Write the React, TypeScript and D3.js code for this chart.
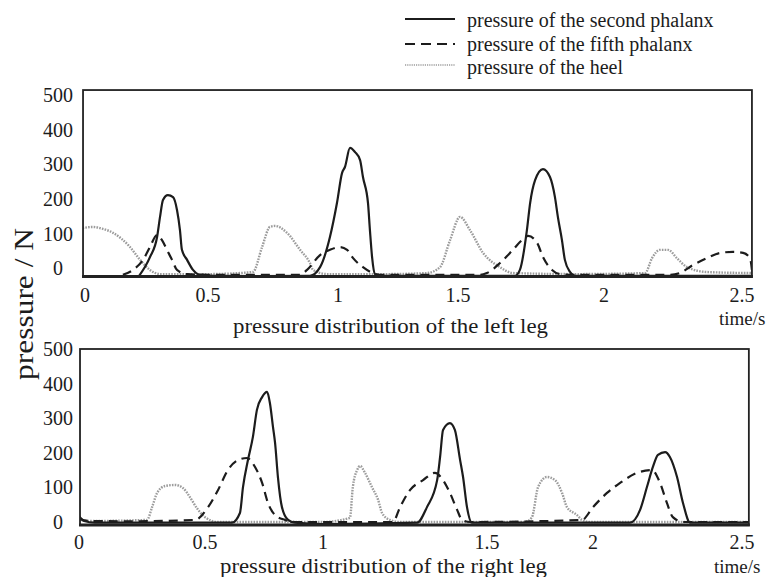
import React from "react";
import * as d3 from "d3";

type Pt = [number, number];

// ---------- tick values / labels ----------
const X_TICKS = [0, 0.5, 1, 1.5, 2, 2.5];
const X_TICK_LABELS = ["0", "0.5", "1", "1.5", "2", "2.5"];
const Y_TICKS = [0, 100, 200, 300, 400, 500];

const SERIES_NAMES = [
  "pressure of the second phalanx",
  "pressure of the fifth phalanx",
  "pressure of the heel",
];

// ---------- left leg (time s, pressure N) ----------
const leftSecond: Pt[] = [
  [0.22, -22], [0.264, 32], [0.293, 90], [0.305, 148], [0.317, 197], [0.337, 211], [0.358, 205],
  [0.374, 168], [0.386, 110], [0.394, 53], [0.415, 24], [0.439, -5], [0.467, -19], [0.55, -22],
  [0.7, -23], [0.892, -22], [0.931, 3], [0.969, 90], [0.996, 188], [1.017, 275], [1.029, 292],
  [1.05, 347], [1.071, 335], [1.092, 312], [1.104, 263], [1.125, 188], [1.133, 110], [1.142, 32],
  [1.154, -17], [1.175, -22], [1.4, -22], [1.695, -22], [1.712, -5], [1.736, 110], [1.747, 188],
  [1.764, 254], [1.791, 286], [1.815, 263], [1.832, 205], [1.842, 148], [1.856, 81], [1.866, 24],
  [1.884, -11], [1.901, -22], [2.2, -22], [2.536, -22],
];
const leftFifth: Pt[] = [
  [0.154, -19], [0.195, -5], [0.236, 24], [0.264, 61], [0.293, 96], [0.313, 81], [0.333, 53],
  [0.354, 24], [0.374, -5], [0.415, -17], [0.5, -19], [0.854, -19], [0.881, -5], [0.931, 38],
  [0.969, 53], [1.008, 61], [1.038, 53], [1.063, 29], [1.104, 3], [1.146, -14], [1.175, -19],
  [1.575, -19], [1.599, -14], [1.644, 15], [1.688, 53], [1.719, 81], [1.74, 93], [1.771, 73],
  [1.791, 32], [1.822, -5], [1.849, -17], [1.884, -19], [2.239, -19], [2.275, -14], [2.322, 9],
  [2.373, 29], [2.42, 44], [2.467, 47], [2.504, 44], [2.529, 29], [2.536, -5],
];
const leftHeel: Pt[] = [
  [-0.01, 116], [0.033, 119], [0.07, 114], [0.114, 102], [0.183, 61], [0.224, 24], [0.264, -5],
  [0.305, -17], [0.5, -17], [0.673, -11], [0.708, 61], [0.738, 119], [0.758, 122], [0.804, 102],
  [0.854, 53], [0.892, 15], [0.904, -5], [0.958, -17], [1.2, -17], [1.371, -14], [1.425, 3],
  [1.467, 81], [1.507, 148], [1.541, 110], [1.586, 44], [1.644, 3], [1.688, -14], [1.9, -17],
  [2.149, -14], [2.174, 29], [2.203, 53], [2.232, 53], [2.264, 29], [2.301, 3], [2.373, -11],
  [2.536, -14],
];

// ---------- right leg (time s, pressure N) ----------
const rightSecond: Pt[] = [
  [0, 17], [0.02, 3], [0.063, -2], [0.3, -2], [0.614, -2], [0.648, 26], [0.661, 101], [0.682, 179],
  [0.703, 246], [0.72, 324], [0.742, 361], [0.763, 376], [0.775, 344], [0.788, 275], [0.797, 228],
  [0.809, 130], [0.826, 43], [0.852, 6], [0.881, -2], [1.0, -6], [1.287, -2], [1.317, 43],
  [1.348, 121], [1.357, 188], [1.366, 266], [1.387, 286], [1.402, 266], [1.418, 179], [1.427, 130],
  [1.439, 43], [1.454, -2], [1.8, -2], [2.124, -2], [2.158, 35], [2.181, 101], [2.201, 159],
  [2.218, 194], [2.242, 202], [2.258, 188], [2.282, 130], [2.302, 55], [2.326, -2], [2.523, -2],
];
const rightFifth: Pt[] = [
  [0, 9], [0.04, 3], [0.2, 2], [0.46, 6], [0.513, 43], [0.555, 92], [0.597, 150], [0.64, 179],
  [0.678, 185], [0.712, 159], [0.742, 113], [0.767, 55], [0.797, 20], [0.839, 6], [0.881, 0],
  [1.213, 0], [1.235, 43], [1.265, 92], [1.305, 121], [1.341, 142], [1.366, 121], [1.387, 84],
  [1.409, 35], [1.424, 6], [1.448, 0], [1.948, 6], [2.0, 43], [2.047, 84], [2.091, 113],
  [2.148, 142], [2.198, 150], [2.225, 113], [2.248, 55], [2.268, 14], [2.302, 0], [2.523, 0],
];
const rightHeel: Pt[] = [
  [0, 6], [0.04, 3], [0.27, 6], [0.29, 43], [0.31, 84], [0.341, 104], [0.381, 107], [0.413, 98],
  [0.44, 72], [0.468, 40], [0.5, 14], [0.555, 0], [1.0, 0], [1.082, 12], [1.091, 101], [1.104, 150],
  [1.113, 162], [1.128, 142], [1.149, 101], [1.168, 64], [1.18, 26], [1.204, 6], [1.235, 0],
  [1.679, 0], [1.712, 14], [1.741, 101], [1.783, 130], [1.821, 121], [1.854, 84], [1.877, 43],
  [1.925, 20], [1.948, 6], [1.986, 0], [2.523, 0],
];

const FONT = "'Liberation Serif', 'Times New Roman', serif";
const INK = "#1c1c1c";

const STYLES = [
  { stroke: INK, dash: undefined as string | undefined, width: 2.2 },
  { stroke: INK, dash: "9 6", width: 2.2 },
  { stroke: "#9c9c9c", dash: "1.6 1.2", width: 2.4 },
];

interface PanelProps {
  id: string;
  series: Pt[][];
  xStops: number[];
  tMin: number;
  tMax: number;
  yZero: number;
  yFive: number;
  vTop: number;
  vBottom: number;
  tickLabelY: number;
  title: string;
  titleX: number;
  titleY: number;
  titleLen: number;
  timeX: number;
  timeY: number;
}

function Panel(p: PanelProps) {
  const x = d3.scaleLinear().domain(X_TICKS).range(p.xStops);
  const y = d3.scaleLinear().domain([0, 500]).range([p.yZero, p.yFive]);
  const left = x(p.tMin);
  const right = x(p.tMax);
  const top = y(p.vTop);
  const bottom = y(p.vBottom);
  const line = d3
    .line<Pt>()
    .x((d) => x(d[0]))
    .y((d) => y(d[1]))
    .curve(d3.curveMonotoneX);
  return (
    <g>
      <defs>
        <clipPath id={p.id}>
          <rect x={left} y={top} width={right - left} height={bottom - top} />
        </clipPath>
      </defs>
      <g clipPath={`url(#${p.id})`}>
        {[2, 1, 0].map((i) => (
          <path
            key={i}
            d={line(p.series[i]) || ""}
            fill="none"
            stroke={STYLES[i].stroke}
            strokeWidth={STYLES[i].width}
            strokeDasharray={STYLES[i].dash}
            strokeLinejoin="round"
          />
        ))}
      </g>
      <rect x={left} y={top} width={right - left} height={bottom - top} fill="none" stroke="#222" strokeWidth={1.8} />
      <line x1={left - 1} x2={right + 1} y1={bottom} y2={bottom} stroke="#222" strokeWidth={3} />
      {Y_TICKS.map((v) => (
        <text key={v} x={58} y={y(v)} dy="0.35em" textAnchor="middle" fontFamily={FONT} fontSize={20} fill={INK}>
          {v}
        </text>
      ))}
      {X_TICKS.map((t, i) => (
        <text key={t} x={x(t)} y={p.tickLabelY} dy="0.35em" textAnchor="middle" fontFamily={FONT} fontSize={20} fill={INK}>
          {X_TICK_LABELS[i]}
        </text>
      ))}
      <text x={p.titleX} y={p.titleY} fontFamily={FONT} fontSize={20} fill={INK} textLength={p.titleLen} lengthAdjust="spacingAndGlyphs">
        {p.title}
      </text>
      <text x={p.timeX} y={p.timeY} fontFamily={FONT} fontSize={19} fill={INK}>
        time/s
      </text>
    </g>
  );
}

export default function App() {
  const legendRows = [
    { lineY: 19, textY: 27 },
    { lineY: 44, textY: 51 },
    { lineY: 65, textY: 74 },
  ];
  return (
    <svg width={772} height={577} style={{ position: "absolute", left: 0, top: 0, background: "#fff" }}>
      <rect width={772} height={577} fill="#fff" />
      {/* legend */}
      {legendRows.map((r, i) => (
        <g key={i}>
          <line
            x1={405}
            x2={455}
            y1={r.lineY}
            y2={r.lineY}
            stroke={STYLES[i].stroke}
            strokeWidth={i === 2 ? 1.6 : 2}
            strokeDasharray={i === 1 ? "10 6" : i === 2 ? "1.2 1" : undefined}
          />
          <text x={467} y={r.textY} fontFamily={FONT} fontSize={20} fill={INK}>
            {SERIES_NAMES[i]}
          </text>
        </g>
      ))}
      <Panel
        id="clipL"
        series={[leftSecond, leftFifth, leftHeel]}
        xStops={[85, 208, 338, 458, 604, 742]}
        tMin={-0.008}
        tMax={2.536}
        yZero={268.2}
        yFive={94.9}
        vTop={514}
        vBottom={-24}
        tickLabelY={295}
        title="pressure distribution of the left leg"
        titleX={233}
        titleY={333}
        titleLen={315}
        timeX={719}
        timeY={325}
      />
      <Panel
        id="clipR"
        series={[rightSecond, rightFifth, rightHeel]}
        xStops={[79, 205, 323, 487, 593, 742]}
        tMin={0.004}
        tMax={2.523}
        yZero={522}
        yFive={349}
        vTop={500}
        vBottom={-8.7}
        tickLabelY={542}
        title="pressure distribution of the right leg"
        titleX={220}
        titleY={573}
        titleLen={327}
        timeX={714}
        timeY={573}
      />
      <text
        transform="translate(33,304) rotate(-90)"
        textAnchor="middle"
        fontFamily={FONT}
        fontSize={27}
        fill={INK}
        textLength={152}
        lengthAdjust="spacingAndGlyphs"
      >
        pressure / N
      </text>
    </svg>
  );
}
